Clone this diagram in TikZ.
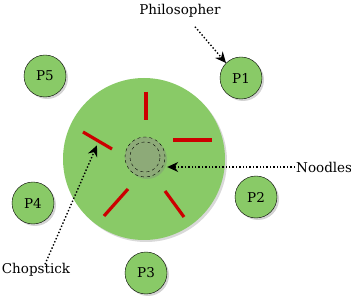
\documentclass[tikz,border=0pt]{standalone}
\usepackage{fontspec}
\setmainfont{DejaVu Serif}
\usetikzlibrary{shadows,arrows.meta,positioning,calc}
\definecolor{tableGreen}{RGB}{137,202,103}
\definecolor{plateGray}{RGB}{141,170,120}
\definecolor{stickRed}{RGB}{204,0,0}

\tikzset{
  philosopher/.style={circle, draw=black, fill=tableGreen, minimum size=42pt, inner sep=0pt,
    font=\fontsize{13.5}{15}\selectfont, drop shadow={opacity=0.35, shadow xshift=2pt, shadow yshift=-2pt}},
  chopstick/.style={draw=stickRed, line width=3.2pt},
  callout/.style={dotted, line width=1.4pt, -{Stealth[length=11pt,width=10pt]}},
  tag/.style={font=\fontsize{13.5}{15}\selectfont, inner sep=1pt}
}

\begin{document}
\begin{tikzpicture}[x=1pt,y=1pt]
    \useasboundingbox (0,0) rectangle (351,300);
    % table and plate
    \node[circle, fill=tableGreen, minimum size=162pt, inner sep=0pt,
          drop shadow={opacity=0.3, shadow xshift=2pt, shadow yshift=-2pt}] (table) at (144,141) {};
    \node[circle, draw=black, dashed, fill=plateGray, minimum size=40pt, inner sep=0pt,
          drop shadow={opacity=0.35, shadow xshift=2pt, shadow yshift=-2pt}] (plate) at (145,143) {};
    \node[circle, draw=black, dashed, minimum size=30pt, inner sep=0pt] (noodles) at (plate) {};

    % chopsticks
    \draw[chopstick] (146,208) coordinate (s1a) -- (146,180) coordinate (s1b);
    \draw[chopstick] (173,160) coordinate (s2a) -- (212,160) coordinate (s2b);
    \draw[chopstick] (83,168) coordinate (s3a) -- (112,151) coordinate (s3b);
    \draw[chopstick] (104,84) coordinate (s4a) -- (128,111) coordinate (s4b);
    \draw[chopstick] (165,109) coordinate (s5a) -- (184,83) coordinate (s5b);

    % philosophers
    \node[philosopher] (p1) at (241,222) {P1};
    \node[philosopher] (p2) at (256,103) {P2};
    \node[philosopher] (p3) at (146,27) {P3};
    \node[philosopher] (p4) at (33,97) {P4};
    \node[philosopher] (p5) at (45,224) {P5};

    % labels
    \node[tag] (lblphil) at (180,289) {Philosopher};
    \node[tag, anchor=west] (lblnood) at (295,133) {Noodles};
    \node[tag] (lblstick) at (36,30) {Chopstick};

    \draw[callout] ($(lblphil.south)+(15,-8)$) -- (p1.north west);
    \draw[callout] (lblnood.west) -- ($(plate.east)+(2,-10)$);
    \draw[callout] ($(lblstick.north)+(9,-2)$) -- ($(s3a)!0.55!(s3b)+(-2,-4)$);
\end{tikzpicture}
\end{document}
